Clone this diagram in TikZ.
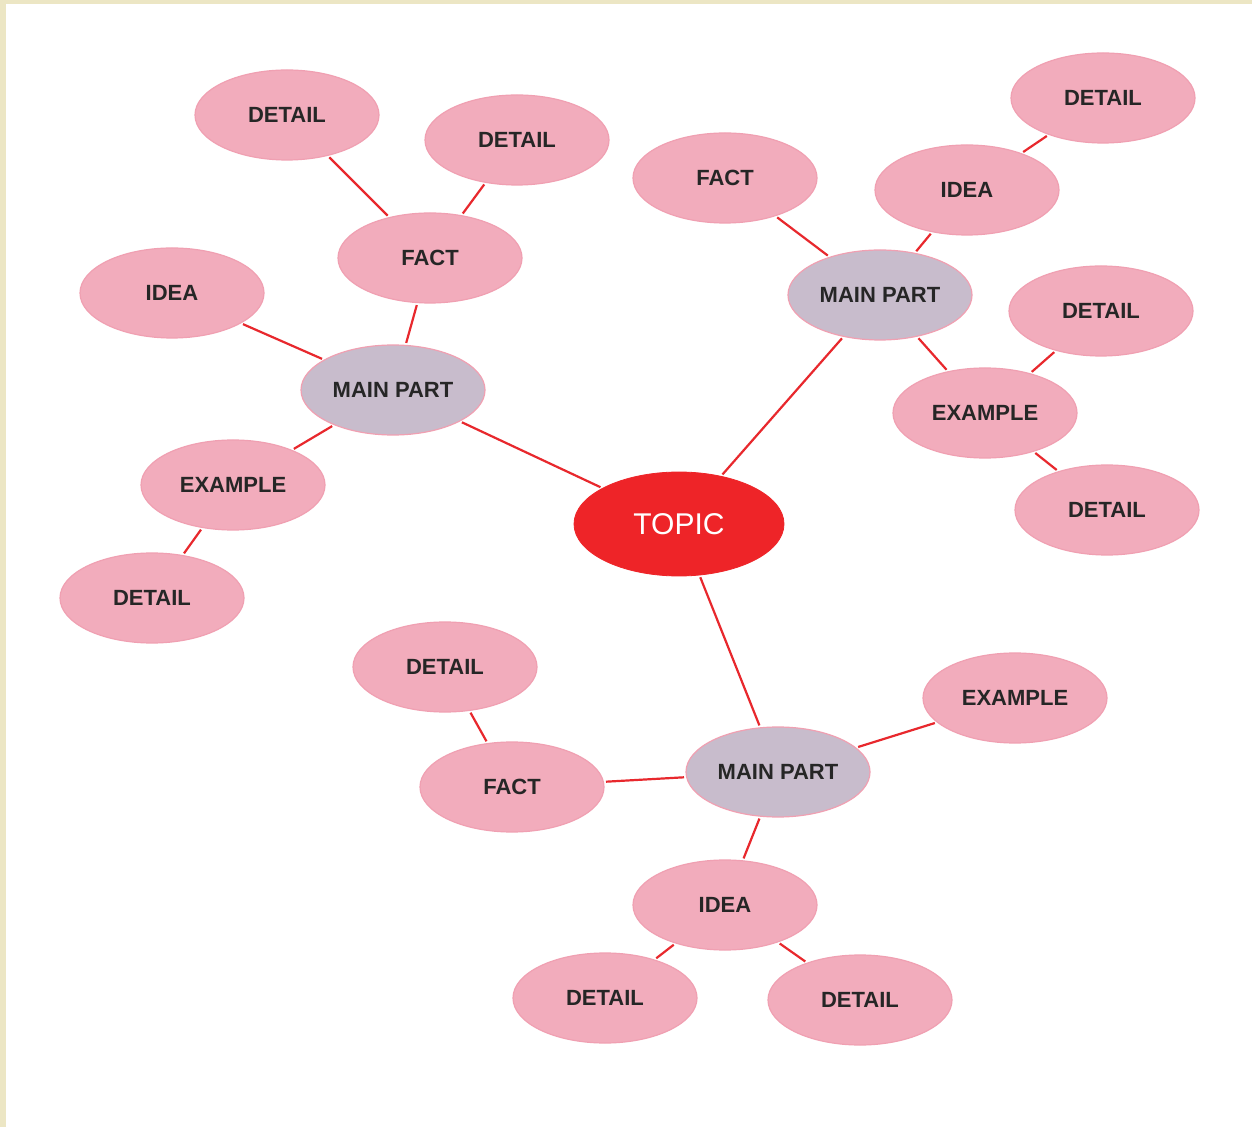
\documentclass[tikz,border=0pt]{standalone}
\usepackage{fontspec}
\setmainfont{Liberation Sans}
\usetikzlibrary{shapes.geometric}
\definecolor{beige}{RGB}{236,230,196}
\definecolor{pinkfill}{RGB}{242,172,188}
\definecolor{pinkline}{RGB}{240,160,178}
\definecolor{greyfill}{RGB}{200,188,204}
\definecolor{topicred}{RGB}{238,36,40}
\definecolor{linkred}{RGB}{232,40,45}
\tikzset{
  px/.style={x=0.5pt,y=-0.5pt},
  bub/.style={ellipse,fill=pinkfill,draw=pinkline,line width=0.6pt,minimum width=92pt,minimum height=45pt,inner sep=0pt,font=\bfseries\fontsize{11}{12}\selectfont,text=black!85},
  mainbub/.style={bub,fill=greyfill},
  topicbub/.style={ellipse,fill=topicred,draw=topicred,minimum width=105pt,minimum height=52pt,inner sep=0pt,font=\fontsize{15}{16}\selectfont,text=white},
  link/.style={draw=linkred,line width=1.1pt,shorten <=1pt,shorten >=1pt}
}
\begin{document}
\begin{tikzpicture}[px]
\fill[beige] (0,0) rectangle (1252,1127);
\fill[white] (6,4) rectangle (1252,1127);
\useasboundingbox (0,0) rectangle (1252,1127);
% left branch
\node[bub] (d1) at (287,115) {DETAIL};
\node[bub] (d2) at (517,140) {DETAIL};
\node[bub] (fl) at (430,258) {FACT};
\node[bub] (il) at (172,293) {IDEA};
\node[mainbub] (ml) at (393,390) {MAIN PART};
\node[bub] (el) at (233,485) {EXAMPLE};
\node[bub] (dl) at (152,598) {DETAIL};
% topic
\node[topicbub] (t) at (679,524) {TOPIC};
% right branch
\node[bub] (fr) at (725,178) {FACT};
\node[bub] (ir) at (967,190) {IDEA};
\node[bub] (dr1) at (1103,98) {DETAIL};
\node[mainbub] (mr) at (880,295) {MAIN PART};
\node[bub] (dr2) at (1101,311) {DETAIL};
\node[bub] (er) at (985,413) {EXAMPLE};
\node[bub] (dr3) at (1107,510) {DETAIL};
% bottom branch
\node[bub] (db1) at (445,667) {DETAIL};
\node[bub] (fb) at (512,787) {FACT};
\node[mainbub] (mb) at (778,772) {MAIN PART};
\node[bub] (eb) at (1015,698) {EXAMPLE};
\node[bub] (ib) at (725,905) {IDEA};
\node[bub] (db2) at (605,998) {DETAIL};
\node[bub] (db3) at (860,1000) {DETAIL};
% links
\draw[link] (d1) -- (fl);
\draw[link] (d2) -- (fl);
\draw[link] (fl) -- (ml);
\draw[link] (il) -- (ml);
\draw[link] (ml) -- (el);
\draw[link] (el) -- (dl);
\draw[link] (ml) -- (t);
\draw[link] (t) -- (mr);
\draw[link] (mr) -- (fr);
\draw[link] (mr) -- (ir);
\draw[link] (ir) -- (dr1);
\draw[link] (mr) -- (er);
\draw[link] (er) -- (dr2);
\draw[link] (er) -- (dr3);
\draw[link] (t) -- (mb);
\draw[link] (mb) -- (fb);
\draw[link] (fb) -- (db1);
\draw[link] (mb) -- (eb);
\draw[link] (mb) -- (ib);
\draw[link] (ib) -- (db2);
\draw[link] (ib) -- (db3);
\end{tikzpicture}
\end{document}
